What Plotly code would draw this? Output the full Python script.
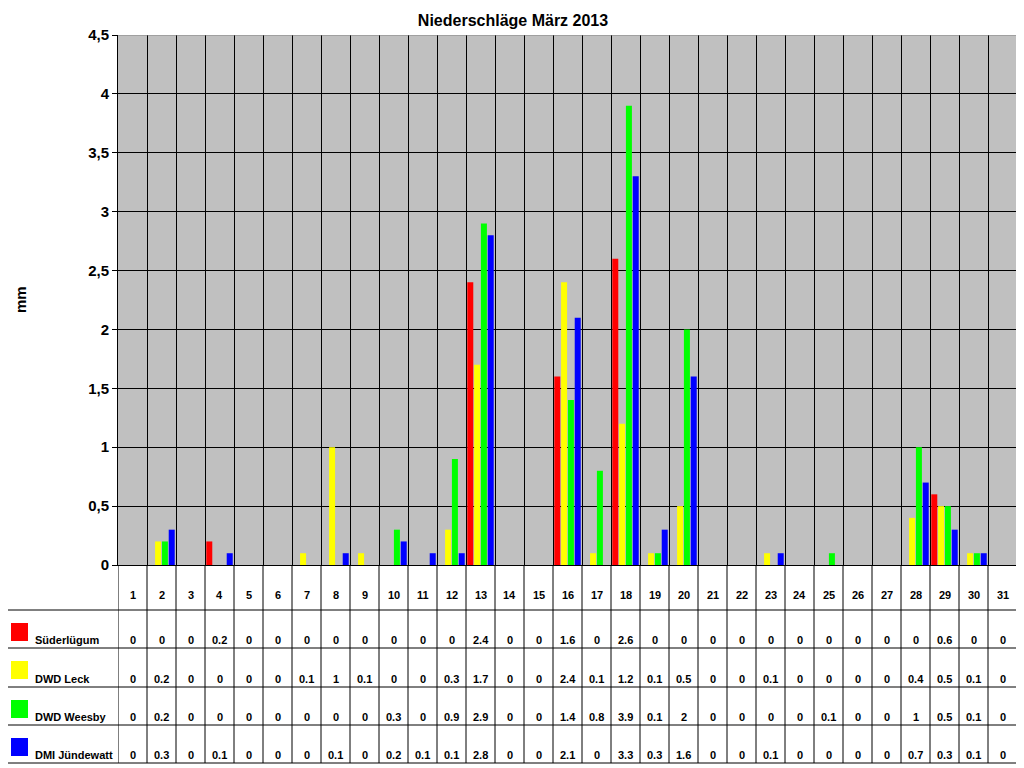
import plotly.graph_objects as go

# data
days = list(range(1, 32))
stations = ["Süderlügum", "DWD Leck", "DWD Weesby", "DMI Jündewatt"]
colors = ["#FF0000", "#FFFF00", "#00FF00", "#0000FF"]

suederluegum = [0, 0, 0, 0.2, 0, 0, 0, 0, 0, 0, 0, 0, 2.4, 0, 0, 1.6, 0, 2.6, 0, 0,
                0, 0, 0, 0, 0, 0, 0, 0, 0.6, 0, 0]
dwd_leck = [0, 0.2, 0, 0, 0, 0, 0.1, 1, 0.1, 0, 0, 0.3, 1.7, 0, 0, 2.4, 0.1, 1.2, 0.1, 0.5,
            0, 0, 0.1, 0, 0, 0, 0, 0.4, 0.5, 0.1, 0]
dwd_weesby = [0, 0.2, 0, 0, 0, 0, 0, 0, 0, 0.3, 0, 0.9, 2.9, 0, 0, 1.4, 0.8, 3.9, 0.1, 2,
              0, 0, 0, 0, 0.1, 0, 0, 1, 0.5, 0.1, 0]
dmi_juendewatt = [0, 0.3, 0, 0.1, 0, 0, 0, 0.1, 0, 0.2, 0.1, 0.1, 2.8, 0, 0, 2.1, 0, 3.3, 0.3, 1.6,
                  0, 0, 0.1, 0, 0, 0, 0, 0.7, 0.3, 0.1, 0]
series = [suederluegum, dwd_leck, dwd_weesby, dmi_juendewatt]

y_ticks = [0, 0.5, 1, 1.5, 2, 2.5, 3, 3.5, 4, 4.5]

# page body has an 8px margin, so the figure is drawn from (8, 8)
OFF = 8
W, H = 1024 - OFF, 768 - OFF
FONT = "Liberation Sans, Arial, sans-serif"


def px(x):
    return (x - OFF) / W


def py(y):
    return 1 - (y - OFF) / H


plot_left, plot_right, plot_top, plot_bottom = 118, 1017, 35, 565
row_lines = [610, 648, 687, 725, 763]
table_left = 6

fig = go.Figure()
for name, vals, col in zip(stations, series, colors):
    fig.add_trace(go.Bar(x=days, y=vals, name=name, marker=dict(color=col, line=dict(width=0))))

shapes = []
# vertical table lines under the plot, at the day boundaries
for k in range(len(days) + 1):
    shapes.append(dict(type="line", xref="x", yref="paper", x0=k + 0.5, x1=k + 0.5,
                       y0=py(row_lines[-1]), y1=py(plot_bottom), line=dict(color="black", width=1)))
# horizontal table lines
for r in row_lines:
    shapes.append(dict(type="line", xref="paper", yref="paper", x0=px(table_left), x1=px(plot_right),
                       y0=py(r), y1=py(r), line=dict(color="black", width=1)))
shapes.append(dict(type="line", xref="paper", yref="paper", x0=px(table_left), x1=px(table_left),
                   y0=py(row_lines[0]), y1=py(row_lines[-1]), line=dict(color="black", width=1)))
# grey top border of the plot area
shapes.append(dict(type="line", xref="paper", yref="y", x0=px(plot_left), x1=px(plot_right),
                   y0=y_ticks[-1], y1=y_ticks[-1], line=dict(color="#808080", width=1)))

annotations = []
# day numbers
for d in days:
    annotations.append(dict(x=d, y=py(595), xref="x", yref="paper", text=str(d), showarrow=False,
                            xanchor="center", yanchor="middle",
                            font=dict(family=FONT, size=11, color="black", weight="bold")))
# table rows
for i, (name, vals, col) in enumerate(zip(stations, series, colors)):
    top, bottom = row_lines[i], row_lines[i + 1]
    yc = py(bottom - 8)
    shapes.append(dict(type="rect", xref="paper", yref="paper", x0=px(11), x1=px(28),
                       y0=py(top + 31), y1=py(top + 13), fillcolor=col, line=dict(width=0)))
    annotations.append(dict(x=px(33), y=yc, xref="paper", yref="paper", text=name, showarrow=False,
                            xanchor="left", yanchor="middle",
                            font=dict(family=FONT, size=11, color="black", weight="bold")))
    for d, v in zip(days, vals):
        annotations.append(dict(x=d, y=yc, xref="x", yref="paper", text=f"{v:g}", showarrow=False,
                                xanchor="center", yanchor="middle",
                                font=dict(family=FONT, size=11, color="black", weight="bold")))

annotations.append(dict(x=px(20), y=py(300), xref="paper", yref="paper", text="mm", textangle=-90,
                        showarrow=False, xanchor="center", yanchor="middle",
                        font=dict(family=FONT, size=15, color="black", weight="bold")))

fig.update_layout(
    width=W, height=H,
    margin=dict(l=0, r=0, t=0, b=0, autoexpand=False),
    paper_bgcolor="white",
    plot_bgcolor="#C0C0C0",
    barmode="group",
    bargap=0.06,
    bargroupgap=0.12,
    showlegend=False,
    separators=",.",
    title=dict(text="Niederschläge März 2013", x=px(513), xanchor="center", y=py(20), yanchor="middle",
               font=dict(family=FONT, size=16, color="black", weight="bold")),
    xaxis=dict(domain=[px(plot_left), px(plot_right)], range=[0.5, len(days) + 0.5],
               tickvals=[k + 0.5 for k in range(len(days) + 1)], showticklabels=False, ticks="",
               showgrid=True, gridcolor="black", gridwidth=1, zeroline=False, automargin=False,
               showline=True, linecolor="black", linewidth=1),
    yaxis=dict(domain=[py(plot_bottom), py(plot_top)], range=[0, y_ticks[-1]], tickvals=y_ticks,
               tickformat=".1~f", showgrid=True, gridcolor="black", gridwidth=1, zeroline=False,
               automargin=False,
               showline=True, linecolor="black", linewidth=1, ticks="outside", ticklen=5,
               tickcolor="black", tickfont=dict(family=FONT, size=15, color="black", weight="bold")),
    shapes=shapes,
    annotations=annotations,
)

fig.write_html("out.html")
